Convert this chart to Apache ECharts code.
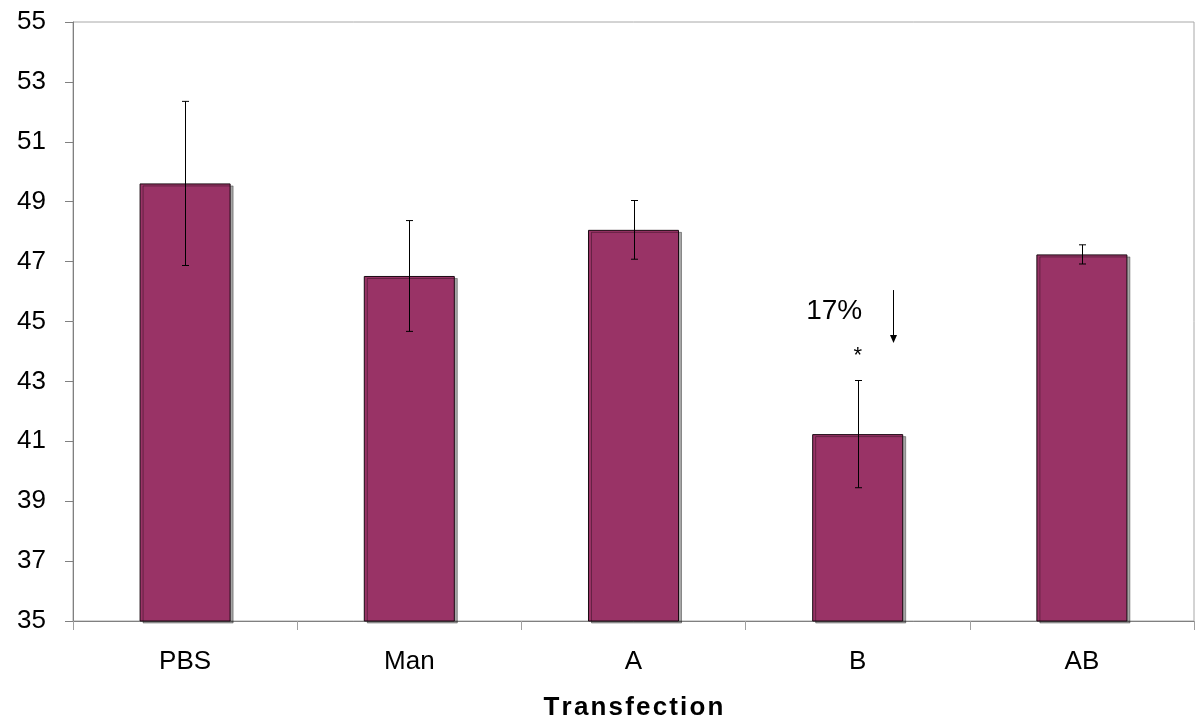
<!DOCTYPE html>
<html>
<head>
<meta charset="utf-8">
<script src="https://cdn.jsdelivr.net/npm/echarts@6/dist/echarts.min.js"></script>
<style>html,body{margin:0;padding:0;background:#fff;}#c{width:1200px;height:725px;}</style>
</head>
<body>
<div id="c"></div>
<script>
var categories = ['PBS', 'Man', 'A', 'B', 'AB'];
var means = [49.61, 46.52, 48.06, 41.24, 47.24];
var errors = [2.74, 1.85, 0.98, 1.79, 0.32];
var yTicks = [35, 37, 39, 41, 43, 45, 47, 49, 51, 53, 55];
var annotationCategory = 'B';
var annotationText = '17%';
var significanceMark = '*';

var chart = echarts.init(document.getElementById('c'), null, {renderer: 'canvas'});
var FONT = '"Liberation Sans", Arial, sans-serif';

var errData = categories.map(function (c, i) { return [i, means[i] - errors[i], means[i] + errors[i]]; });

var option = {
  animation: false,
  backgroundColor: '#ffffff',
  grid: {left: 73, top: 22, right: 6, bottom: 104, show: true, borderColor: '#a8a8a8', borderWidth: 1, containLabel: false, outerBoundsMode: 'none'},
  xAxis: {
    type: 'category',
    data: categories,
    name: 'T\u200Ar\u200Aa\u200An\u200As\u200Af\u200Ae\u200Ac\u200At\u200Ai\u200Ao\u200An',
    nameLocation: 'middle',
    nameGap: 74,
    nameTextStyle: {fontFamily: FONT, fontSize: 26, fontWeight: 'bold', color: '#000'},
    axisLine: {lineStyle: {color: '#808080', width: 1}},
    axisTick: {show: true, length: 9, lineStyle: {color: '#a0a0a0'}},
    axisLabel: {fontFamily: FONT, fontSize: 26, color: '#000', margin: 28},
    splitLine: {show: false}
  },
  yAxis: {
    type: 'value',
    min: yTicks[0],
    max: yTicks[yTicks.length - 1],
    interval: 2,
    axisLine: {show: true, lineStyle: {color: '#808080', width: 1}},
    axisTick: {show: true, length: 8, lineStyle: {color: '#808080'}},
    axisLabel: {fontFamily: FONT, fontSize: 26, color: '#000', margin: 27},
    splitLine: {show: false}
  },
  series: [
    {
      type: 'bar',
      data: means,
      barWidth: '40.6%',
      itemStyle: {
        color: '#993366',
        borderColor: '#1a0a12',
        borderWidth: 1,
        shadowColor: 'rgba(0,0,0,0.35)',
        shadowOffsetX: 3,
        shadowOffsetY: 2,
        shadowBlur: 0
      },
      z: 2
    },
    {
      type: 'custom',
      data: errData,
      z: 5,
      renderItem: function (params, api) {
        var x = api.value(0);
        var lo = api.coord([x, api.value(1)]);
        var hi = api.coord([x, api.value(2)]);
        var cx = Math.round(lo[0]) + 0.5;
        var hw = 3.5;
        var st = {stroke: '#000', lineWidth: 1};
        return {
          type: 'group',
          children: [
            {type: 'line', shape: {x1: cx, y1: lo[1], x2: cx, y2: hi[1]}, style: st},
            {type: 'line', shape: {x1: cx - hw, y1: lo[1], x2: cx + hw, y2: lo[1]}, style: st},
            {type: 'line', shape: {x1: cx - hw, y1: hi[1], x2: cx + hw, y2: hi[1]}, style: st}
          ]
        };
      }
    }
  ]
};
chart.setOption(option);

// Annotation positioned relative to the B category via axis conversion
var bIdx = categories.indexOf(annotationCategory);
var center = chart.convertToPixel({gridIndex: 0}, [bIdx, 0]);
var bandW = chart.convertToPixel({gridIndex: 0}, [1, 0])[0] - chart.convertToPixel({gridIndex: 0}, [0, 0])[0];
function yPix(v) { return chart.convertToPixel({gridIndex: 0}, [bIdx, v])[1]; }
var arrowX = Math.round(center[0] + bandW * 0.158) + 0.5;
var arrowTop = yPix(46.05), arrowBot = yPix(44.28);
chart.setOption({
  graphic: [
    {type: 'line', shape: {x1: arrowX, y1: arrowTop, x2: arrowX, y2: arrowBot - 6}, style: {stroke: '#000', lineWidth: 1}, z: 10},
    {type: 'polygon', shape: {points: [[arrowX - 3.5, arrowBot - 8], [arrowX + 3.5, arrowBot - 8], [arrowX, arrowBot]]}, style: {fill: '#000'}, z: 10},
    {type: 'text', x: center[0] - bandW * 0.105, y: yPix(45.35), style: {text: annotationText, font: '28px ' + FONT, fill: '#000', textAlign: 'center', textVerticalAlign: 'middle'}, z: 10},
    {type: 'text', x: center[0], y: yPix(43.85), style: {text: significanceMark, font: '22px ' + FONT, fill: '#000', textAlign: 'center', textVerticalAlign: 'middle'}, z: 10}
  ]
});
</script>
</body>
</html>
